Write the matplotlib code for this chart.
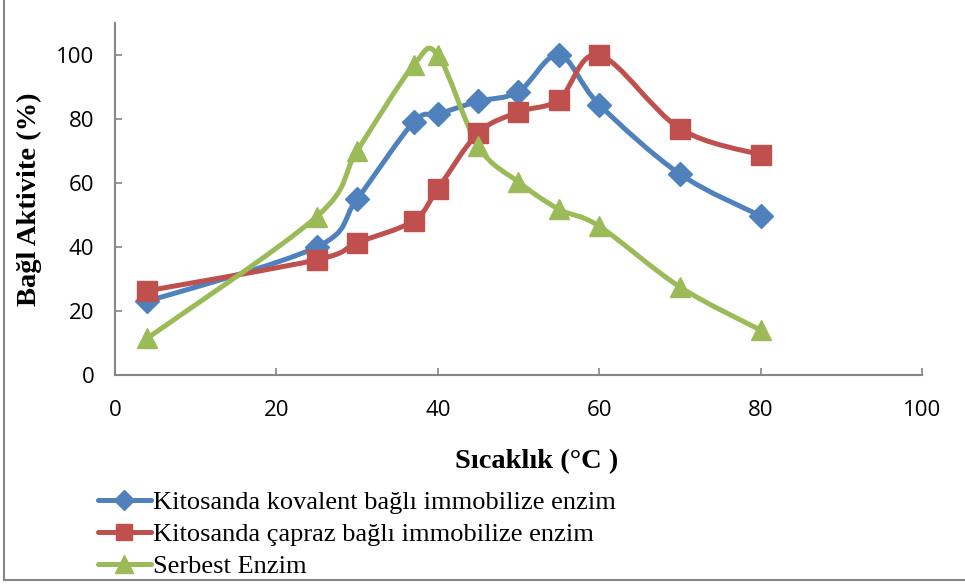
import numpy as np
import matplotlib.pyplot as plt
from matplotlib.path import Path
from matplotlib.patches import PathPatch
from matplotlib.lines import Line2D

# Sicaklik (C) ve bagil aktivite (%) degerleri
sicaklik = [4, 25, 30, 37, 40, 45, 50, 55, 60, 70, 80]
kovalent = [23, 40, 55, 79, 81.5, 85.5, 88.5, 100, 84.5, 62.8, 49.7]
capraz = [26.3, 36, 41.3, 48.2, 58.2, 75.6, 82.2, 86, 100, 77, 68.8]
serbest = [11.5, 49.5, 70, 96.8, 100, 71.5, 60.3, 51.8, 46.5, 27.5, 14]

etiketler = ['Kitosanda kovalent bağlı immobilize enzim',
             'Kitosanda çapraz bağlı immobilize enzim',
             'Serbest Enzim']
renkler = ['#4F81BD', '#C0504D', '#9BBB59']
isaretler = ['D', 's', '^']
boyut = [12, 14, 15]


def yumusak_yol(x, y):
    # noktalardan gecen bezier egrisi (catmull-rom, gerilim 1/6)
    x = np.asarray(x, float)
    y = np.asarray(y, float)
    p = np.column_stack([x, y])
    n = len(p)
    verts = [p[0]]
    codes = [Path.MOVETO]
    for i in range(n - 1):
        p0 = p[i - 1] if i > 0 else p[i]
        p1 = p[i]
        p2 = p[i + 1]
        p3 = p[i + 2] if i + 2 < n else p[i + 1]
        c1 = p1 + (p2 - p0) / 6.0
        c2 = p2 - (p3 - p1) / 6.0
        verts += [c1, c2, p2]
        codes += [Path.CURVE4] * 3
    return Path(verts, codes)


fig = plt.figure(figsize=(9.65, 5.85), dpi=100)
ax = fig.add_axes([0.1192, 0.359, 0.8362, 0.6017])

seriler = [kovalent, capraz, serbest]
tutamaklar = []
for s, renk, m, ms, et in zip(seriler, renkler, isaretler, boyut, etiketler):
    yol = yumusak_yol(sicaklik, s)
    ax.add_patch(PathPatch(yol, facecolor='none', edgecolor=renk, lw=3.6,
                           capstyle='round', joinstyle='round', zorder=2))
    ax.plot(sicaklik, s, linestyle='none', marker=m, ms=ms, color=renk,
            markeredgecolor=renk, zorder=3)
    tutamaklar.append(Line2D([], [], color=renk, lw=3.6, marker=m, ms=ms * 0.85,
                             solid_capstyle='round'))

ax.set_xlim(0, 100)
ax.set_ylim(0, 110)
ax.set_xticks(range(0, 101, 20))
ax.set_yticks(range(0, 101, 20))
for yon in ['top', 'right']:
    ax.spines[yon].set_visible(False)
for yon in ['left', 'bottom']:
    ax.spines[yon].set_color('#868686')
    ax.spines[yon].set_linewidth(1.5)
ax.tick_params(direction='in', length=5, width=1.2, color='#868686',
               labelsize=16)
ax.tick_params(axis='x', pad=18)
ax.tick_params(axis='y', pad=15)
for t in ax.get_xticklabels() + ax.get_yticklabels():
    t.set_fontfamily('Open Sans')

ax.set_xlabel('Sıcaklık (°C )', fontfamily='Liberation Serif',
              fontweight='bold', fontsize=20.5, labelpad=20)
ax.xaxis.label.set_x(0.522)
ax.set_ylabel('Bağl Aktivite (%)', fontfamily='Liberation Serif',
              fontweight='bold', fontsize=20.5, labelpad=10)

fig.legend(handles=tutamaklar, labels=etiketler, loc='upper left',
           bbox_to_anchor=(0.0876, 0.184), frameon=False,
           prop={'family': 'Liberation Serif', 'size': 19},
           handlelength=2.0, handletextpad=0.1, labelspacing=0.32,
           borderpad=0)

# dis cerceve
fig.add_artist(Line2D([0.004, 0.004], [0.008, 1.0], color='#868686', lw=1.5))
fig.add_artist(Line2D([0.004, 1.0], [0.008, 0.008], color='#868686', lw=1.5))

fig.savefig('out.png', dpi=100)
